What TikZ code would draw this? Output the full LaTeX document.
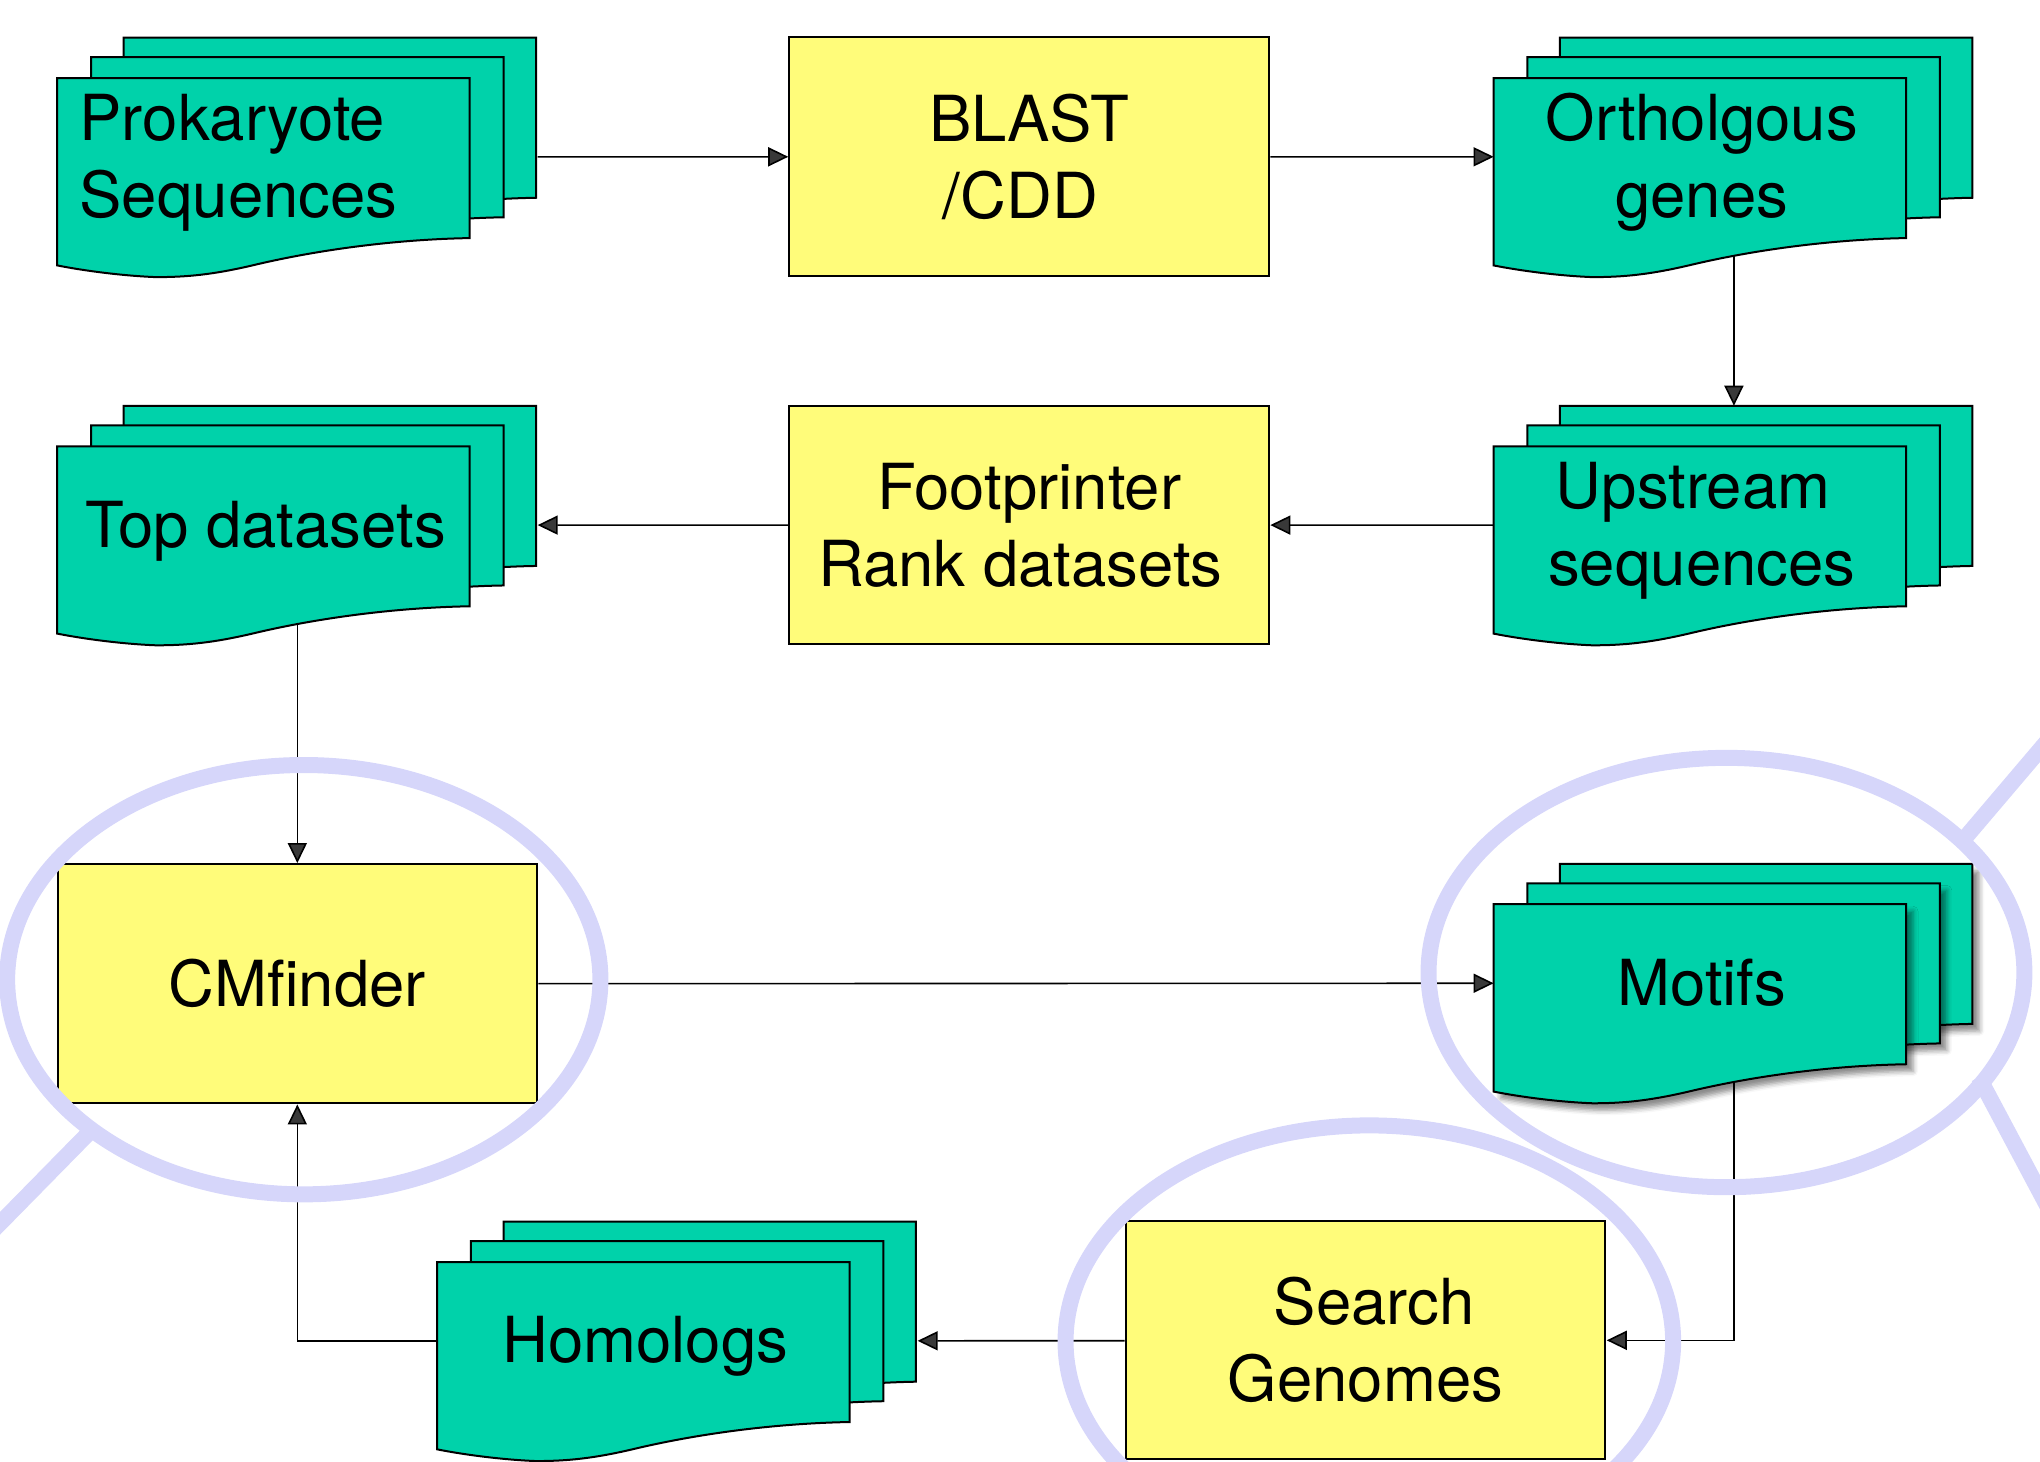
\documentclass[tikz,border=0pt]{standalone}
\usepackage{fontspec}
\setmainfont{TeX Gyre Heros}
\usetikzlibrary{arrows.meta,shadows.blur}
\definecolor{teal0}{RGB}{0,210,170}
\definecolor{yel}{RGB}{255,252,122}
\definecolor{lav}{RGB}{214,214,250}
\pgfdeclarelayer{bg}
\pgfdeclarelayer{fg}
\pgfsetlayers{bg,main,fg}
\newcommand{\dfont}{\fontsize{48.8pt}{59pt}\selectfont}
\newcommand{\tline}[1]{\raisebox{0pt}[0.72em][0pt]{#1}}
\newcommand{\docpage}[3]{%
  \filldraw[#3] (#1,#2) -- (#1+317,#2) -- (#1+317,#2+123)
    .. controls (#1+260,#2+124) and (#1+200,#2+132) .. (#1+150,#2+144)
    .. controls (#1+120,#2+151) and (#1+100,#2+153) .. (#1+76,#2+153)
    .. controls (#1+50,#2+152) and (#1+20,#2+148) .. (#1,#2+144) -- cycle;}
% #1 name, #2 x, #3 y (front page top-left), #4 page opts, #5 text opts, #6 text x offset, #7 text
\newcommand{\docstack}[7]{%
  \docpage{#2+51}{#3-31}{page,#4}
  \docpage{#2+26}{#3-16}{page,#4}
  \docpage{#2}{#3}{page,#4}
  \node[stackbox] (#1) at (#2+184.5,#3+60.5) {};
  \node[doctext,#5] (#1-t) at (#2+#6,#3+60) {#7};}
\tikzset{
  page/.style={fill=teal0, draw=black, line width=2pt},
  shadowed/.style={blur shadow={shadow xshift=7pt, shadow yshift=-7pt, shadow blur radius=5pt, shadow opacity=45}},
  stackbox/.style={rectangle, inner sep=0pt, minimum width=369pt, minimum height=183pt},
  procbox/.style={rectangle, fill=yel, draw=black, line width=2pt, inner sep=0pt,
    minimum width=368.5pt, minimum height=183.5pt, font=\dfont, align=center},
  doctext/.style={inner sep=0pt, font=\dfont, align=center},
  arr/.style={-{Triangle[length=20pt,width=19pt]}, line width=1.6pt},
  halo/.style={draw=lav, line width=16pt},
}
\begin{document}
\begin{tikzpicture}[x=1pt, y=-1pt, scale=1.301, every node/.append style={transform shape}]
\useasboundingbox (0,0) rectangle (1568,1123);
% process boxes
\node[procbox] (blast) at (791,120.5) {\tline{BLAST}\\\tline{/CDD\ }};
\node[procbox] (fp) at (791,403.5) {\tline{Footprinter}\\\tline{Rank datasets\ }};
\node[procbox] (cmf) at (228.5,756) {\tline{CMfinder}};
\node[procbox] (sg) at (1049.5,1030) {\tline{\ Search}\\\tline{Genomes}};
% document stacks
\docstack{pro}{44}{60}{}{anchor=west,align=left}{17}{\tline{Prokaryote}\\\tline{Sequences}}
\docstack{orth}{1148}{60}{}{}{160}{\tline{Ortholgous}\\\tline{genes}}
\docstack{top}{44}{343}{}{}{160}{\tline{Top datasets}}
\docstack{ups}{1148}{343}{}{}{160}{\tline{Upstream\ }\\\tline{sequences}}
\docstack{mot}{1148}{695}{shadowed}{}{160}{\tline{Motifs}}
\docstack{hom}{336}{970}{}{}{160}{\tline{Homologs}}
% connectors
\begin{pgfonlayer}{bg}
\draw[arr] (pro) -- (blast);
\draw[arr] (blast) -- (orth);
\draw[arr] (orth.center) -- (ups.north);
\draw[arr] (ups) -- (fp);
\draw[arr] (fp) -- (top);
\draw[arr] (top.center) -- (cmf.north);
\draw[arr] (cmf) -- (mot);
\draw[arr] (mot.center) |- (sg.east);
\draw[arr] (sg) -- (hom);
\draw[arr] (hom.west) -| (cmf.south);
\end{pgfonlayer}
% highlight rings
\begin{pgfonlayer}{fg}
\draw[halo] (233.5,753) ellipse [x radius=228, y radius=165];
\draw[halo] (71,868) -- (-40,981);
\draw[halo] (1327,747.5) ellipse [x radius=229, y radius=165];
\draw[halo] (1507,648) -- (1620,515);
\draw[halo] (1521,828) -- (1580,939);
\draw[halo] (1052.5,1031) ellipse [x radius=233.5, y radius=166];
\end{pgfonlayer}
\end{tikzpicture}
\end{document}
